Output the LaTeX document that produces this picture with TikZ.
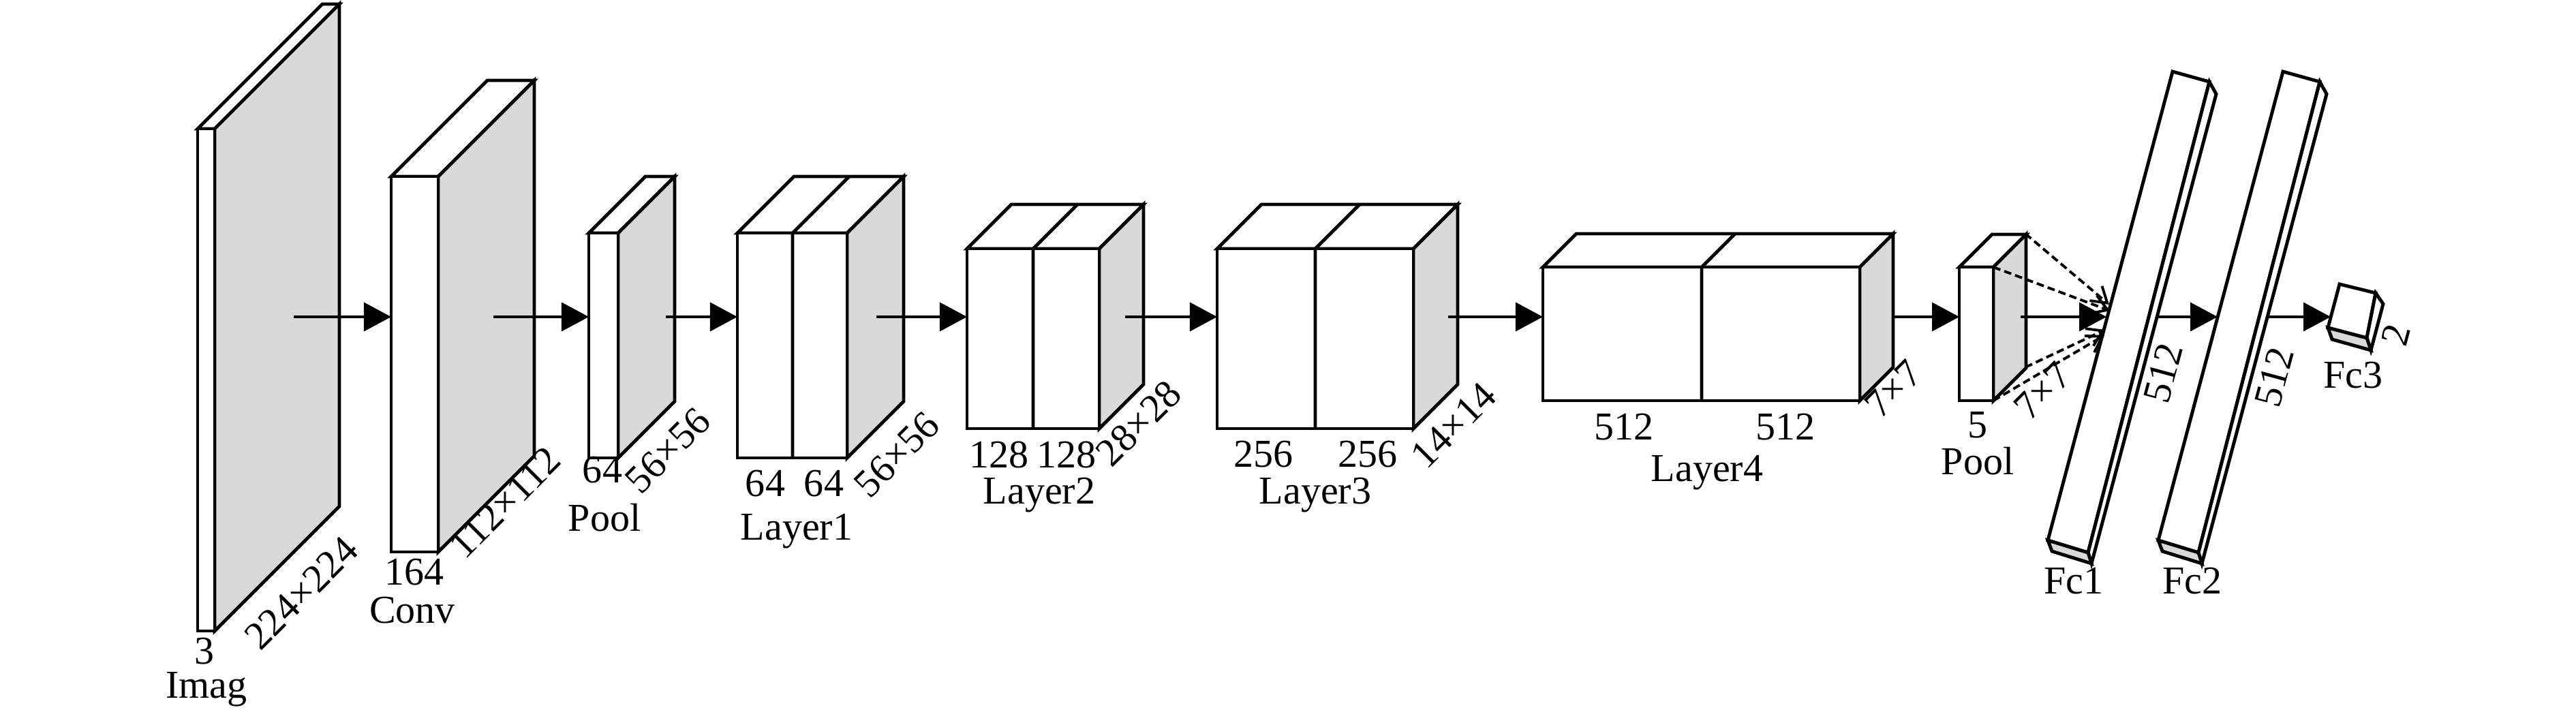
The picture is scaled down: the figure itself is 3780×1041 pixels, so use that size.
\documentclass[tikz,border=0pt]{standalone}
\usepackage{fontspec}
\setmainfont{Liberation Serif}
\usetikzlibrary{arrows.meta}
\definecolor{fmgray}{RGB}{217,217,217}
\tikzset{
  boxline/.style={draw=black, line width=1.4pt, line join=miter},
  frontface/.style={boxline, fill=white},
  sideface/.style={boxline, fill=fmgray},
  flowarrow/.style={-{Triangle[length=4mm,width=4.2mm]}, line width=1pt},
  poolarrow/.style={-{Straight Barb[length=2.2mm,width=2.8mm]}, line width=1.1pt,
    dash pattern=on 1.1mm off 0.6mm},
  lbl/.style={inner sep=0pt, font=\fontsize{16.5}{19}\selectfont},
  dimlbl/.style={lbl, rotate=45},
  fclbl/.style={lbl, rotate=75}
}
% feature map: left, right, top, bottom, depth (pixel units, y down)
\newcommand{\fmap}[5]{%
  \path[frontface] (#1,#3) -- ++(#5,-#5) -- ++(#2-#1,0) -- (#2,#3) -- cycle;
  \path[sideface] (#2,#3) -- ++(#5,-#5) -- ++(0,#4-#3) -- (#2,#4) -- cycle;
  \path[frontface] (#1,#3) rectangle (#2,#4);
}

\begin{document}
\begin{tikzpicture}[x=0.01cm, y=-0.01cm]
  \useasboundingbox (0,0) rectangle (3780,1041);

  % blocks
  \fmap{290}{315}{189}{926}{183}
  \fmap{574}{643}{259}{810}{141}
  \fmap{864}{907}{342}{672}{83}
  \fmap{1082}{1243}{342}{672}{83}
  \draw[boxline] (1163,672) -- (1163,342) -- ++(83,-83);
  \fmap{1419}{1613}{365}{629}{65}
  \draw[boxline] (1516,629) -- (1516,365) -- ++(65,-65);
  \fmap{1786}{2074}{365}{629}{65}
  \draw[boxline] (1930,629) -- (1930,365) -- ++(65,-65);
  \fmap{2264}{2729}{392}{588}{49}
  \draw[boxline] (2497,588) -- (2497,392) -- ++(49,-49);
  \fmap{2875}{2925}{392}{588}{48}

  % fully connected bars
  \path[frontface] (3188,105) -- (3242,120) -- (3064,811) -- (3005,793) -- cycle;
  \path[frontface] (3242,120) -- (3252,138) -- (3069,827) -- (3064,811) -- cycle;
  \path[sideface] (3005,793) -- (3064,811) -- (3069,827) -- (3011,809) -- cycle;
  \path[frontface] (3350,105) -- (3404,120) -- (3226,811) -- (3167,793) -- cycle;
  \path[frontface] (3404,120) -- (3414,138) -- (3231,827) -- (3226,811) -- cycle;
  \path[sideface] (3167,793) -- (3226,811) -- (3231,827) -- (3173,809) -- cycle;
  \path[frontface] (3433,417) -- (3486,430) -- (3473,496) -- (3416,481) -- cycle;
  \path[frontface] (3486,430) -- (3497,446) -- (3479,514) -- (3473,496) -- cycle;
  \path[sideface] (3416,481) -- (3473,496) -- (3479,514) -- (3422,498) -- cycle;

  % arrow ends
  \coordinate (imgout) at (431,465);
  \coordinate (convin) at (574,465);
  \coordinate (convout) at (724,465);
  \coordinate (poolain) at (864,465);
  \coordinate (poolaout) at (977,465);
  \coordinate (layain) at (1082,465);
  \coordinate (layaout) at (1286,465);
  \coordinate (laybin) at (1419,465);
  \coordinate (laybout) at (1651,465);
  \coordinate (laycin) at (1786,465);
  \coordinate (laycout) at (2125,465);
  \coordinate (laydin) at (2264,465);
  \coordinate (laydout) at (2778,465);
  \coordinate (poolbin) at (2875,465);
  \coordinate (poolbout) at (2965,465);
  \coordinate (fcain) at (3091,465);
  \coordinate (fcaout) at (3167,465);
  \coordinate (fcbin) at (3254,465);
  \coordinate (fcbout) at (3328,465);
  \coordinate (fccin) at (3420,465);
  \coordinate (pbtb) at (2972,343);
  \coordinate (pbtf) at (2925,392);
  \coordinate (pbbb) at (2972,539);
  \coordinate (pbbf) at (2925,588);
  \coordinate (fcat) at (3095,447);
  \coordinate (fcam) at (3096,456);
  \coordinate (fcab) at (3089,484);
  \coordinate (fcac) at (3088,492);

  \draw[flowarrow] (imgout) -- (convin);
  \draw[flowarrow] (convout) -- (poolain);
  \draw[flowarrow] (poolaout) -- (layain);
  \draw[flowarrow] (layaout) -- (laybin);
  \draw[flowarrow] (laybout) -- (laycin);
  \draw[flowarrow] (laycout) -- (laydin);
  \draw[flowarrow] (laydout) -- (poolbin);
  \draw[flowarrow] (poolbout) -- (fcain);
  \draw[flowarrow] (fcaout) -- (fcbin);
  \draw[flowarrow] (fcbout) -- (fccin);
  \draw[poolarrow] (pbtb) -- (fcat);
  \draw[poolarrow] (pbtf) -- (fcam);
  \draw[poolarrow] (pbbb) -- (fcab);
  \draw[poolarrow] (pbbf) -- (fcac);

  % labels
  \node[lbl] (imgch) at (300,956) {3};
  \node[lbl] (imgname) at (303,1012) {Imag};
  \node[dimlbl] (imgdim) at (442,870) {224×224};
  \node[lbl] (convch) at (608,840) {164};
  \node[lbl] (convname) at (605,896) {Conv};
  \node[dimlbl] (convdim) at (741,737) {112×112};
  \node[lbl] (poolach) at (884,690) {64};
  \node[dimlbl] (pooladim) at (980,661) {56×56};
  \node[lbl] (poolaname) at (887,760) {Pool};
  \node[lbl] (layaa) at (1123,710) {64};
  \node[lbl] (layab) at (1209,710) {64};
  \node[dimlbl] (layadim) at (1316,667) {56×56};
  \node[lbl] (layaname) at (1169,780) {Layer1};
  \node[lbl] (layba) at (1466,667) {128};
  \node[lbl] (laybb) at (1565,667) {128};
  \node[dimlbl] (laybdim) at (1671,621) {28×28};
  \node[lbl] (laybname) at (1525,727) {Layer2};
  \node[lbl] (layca) at (1854,667) {256};
  \node[lbl] (laycb) at (2007,667) {256};
  \node[dimlbl] (laycdim) at (2133,624) {14×14};
  \node[lbl] (laycname) at (1930,727) {Layer3};
  \node[lbl] (layda) at (2383,627) {512};
  \node[lbl] (laydb) at (2620,627) {512};
  \node[dimlbl] (layddim) at (2778,571) {7×7};
  \node[lbl] (laydname) at (2505,694) {Layer4};
  \node[lbl] (poolbch) at (2902,624) {5};
  \node[lbl] (poolbname) at (2902,677) {Pool};
  \node[dimlbl] (poolbdim) at (2997,574) {7×7};
  \node[fclbl] (fcadim) at (3174,548) {512};
  \node[fclbl] (fcbdim) at (3337,554) {512};
  \node[lbl] (fcaname) at (3043,853) {Fc1};
  \node[lbl] (fcbname) at (3217,853) {Fc2};
  \node[fclbl] (fccdim) at (3516,491) {2};
  \node[lbl] (fccname) at (3453,551) {Fc3};
\end{tikzpicture}
\end{document}
